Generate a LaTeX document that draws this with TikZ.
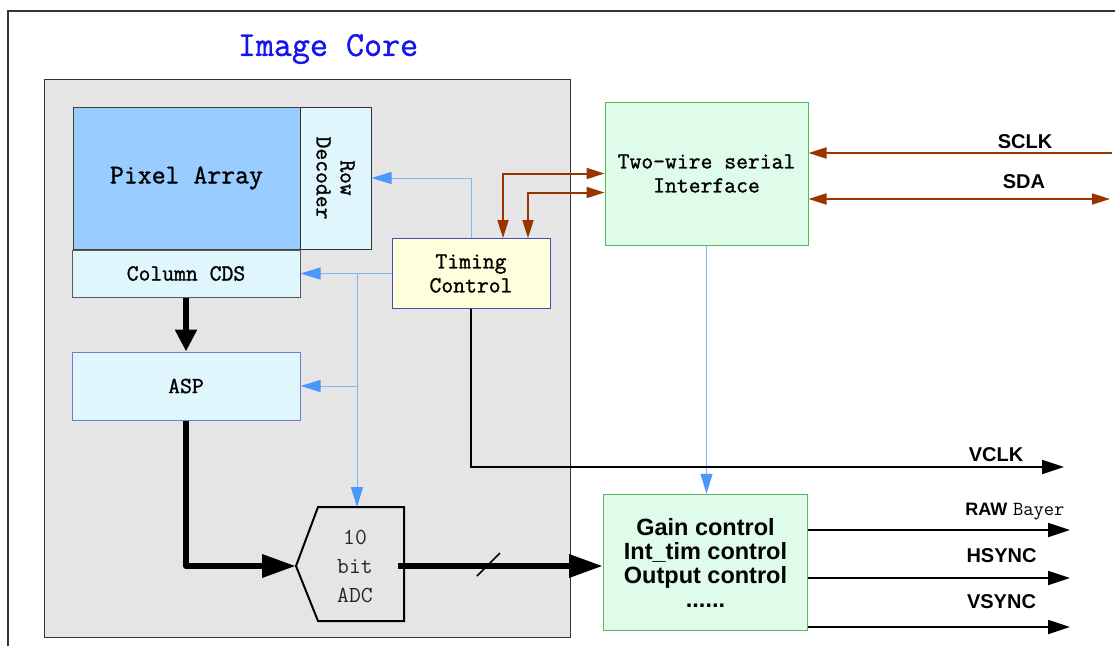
\documentclass[tikz,border=0pt]{standalone}
\usepackage{fontspec}
\newfontfamily\sigfont{Liberation Sans}
\newfontfamily\monofont{Latin Modern Mono}[FakeBold=1.2]
\newfontfamily\monolight{Latin Modern Mono}
\usetikzlibrary{positioning, arrows.meta}

\definecolor{coregray}{HTML}{E5E5E5}
\definecolor{pixblue}{HTML}{99CCFF}
\definecolor{cellcyan}{HTML}{DFF6FD}
\definecolor{tcyellow}{HTML}{FFFFDC}
\definecolor{tcline}{HTML}{3E4FB2}
\definecolor{aspline}{HTML}{7080C8}
\definecolor{ifgreen}{HTML}{DFFCEA}
\definecolor{ifline}{HTML}{5DB55D}
\definecolor{ctlblue}{HTML}{82B6F2}
\definecolor{ctlhead}{HTML}{4A98FA}
\definecolor{serbrown}{HTML}{993300}
\definecolor{titleblue}{HTML}{1414F0}

\begin{document}
\begin{tikzpicture}[x=1pt,y=-1pt,
		box/.style={draw=#1,line width=1pt,inner sep=0pt,align=center},
		mtext/.style={font=\monofont\fontsize{23}{24}\selectfont},
		stext/.style={font=\sigfont\bfseries\fontsize{20}{22}\selectfont},
		sigline/.style={line width=1.8pt,-{Triangle[length=22pt,width=14pt]}},
		ctlline/.style={draw=ctlblue,line width=1pt,-{Triangle[length=20pt,width=12pt,color=ctlhead]}},
		serline/.style={draw=serbrown,line width=2pt},
		sertip/.style={serline,-{Triangle[length=18pt,width=11pt]}},
		bus/.style={line width=6.5pt,line join=round}]
		\useasboundingbox (0,0) rectangle (1115,646);
		\draw[line width=1.5pt,draw=black!80] (8,646) -- (8,11) -- (1115,11);

			\node[font=\monofont\fontsize{35}{36}\selectfont,text=titleblue] (title) at (328,49) {Image Core};
			\node[draw=black!80,fill=coregray,line width=1pt,minimum width=526pt,minimum height=558pt] (core) at (307,358) {};

			\node[box=black!75,fill=pixblue,minimum width=227pt,minimum height=142pt,font=\monofont\fontsize{27}{28}\selectfont] (pix) at (186.5,178) {Pixel Array};
			\node[box=black!80,fill=cellcyan,minimum width=71pt,minimum height=142pt] (rowdec) at (335.5,178) {};
			\node[mtext,rotate=-90,align=center] (rowdectxt) at (rowdec) {Row\\Decoder};
			\node[box=black!65,fill=cellcyan,minimum width=228pt,minimum height=47pt,mtext] (cds) at (186,273.5) {Column CDS};
			\node[box=aspline,fill=cellcyan,minimum width=228pt,minimum height=68pt,mtext] (asp) at (186,386) {ASP};
			\node[box=tcline,fill=tcyellow,minimum width=158pt,minimum height=70pt,mtext] (timing) at (471,273.5) {Timing\\Control};

			\draw[line width=2pt,fill=coregray] (296,566) coordinate (adcl) -- (318,507) -- (404,507) -- (404,621) -- (318,621) -- cycle;
			\coordinate (adct) at (357,507);
			\coordinate (adcr) at (398,566);
			\node[font=\monolight\fontsize{23}{29}\selectfont,align=center,text=black!85] (adc) at (355,566) {10\\bit\\ADC};

			\node[box=ifline,fill=ifgreen,minimum width=203pt,minimum height=143pt,mtext] (twi) at (706.5,173.5) {Two-wire serial\\Interface};
			\node[box=ifline,fill=ifgreen,minimum width=204pt,minimum height=136.5pt,font=\sigfont\bfseries\fontsize{23.5}{24}\selectfont] (outc) at (705.5,562.5) {Gain control\\Int\_tim control\\Output control\\......};

			\coordinate (br) at (357,273.5);
			\draw[ctlline] (timing.north) |- (rowdec.east);
			\draw[ctlline] (timing.west) -- (cds.east);
			\draw[ctlline] (br |- asp.east) -- (asp.east);
			\draw[ctlline] (br) -- (adct);
			\draw[ctlline] (twi.south) -- (twi.south |- outc.north);

			\draw[serline,{Triangle[length=18pt,width=11pt]}-{Triangle[length=18pt,width=11pt]}] ([xshift=32pt]timing.north) |- (twi.west);
			\draw[serline,{Triangle[length=18pt,width=11pt]}-{Triangle[length=18pt,width=11pt]}] ([xshift=57pt]timing.north) |- ([yshift=-19pt]twi.west);

			\coordinate (sclk) at (1112,153);
			\coordinate (sda) at (1110,199);
			\draw[sertip] (sclk) -- (sclk -| twi.east);
			\draw[serline,{Triangle[length=18pt,width=11pt]}-{Triangle[length=18pt,width=11pt]}] (sda -| twi.east) -- (sda);
			\node[stext] (sclklbl) at (1025,141.5) {SCLK};
			\node[stext] (sdalbl) at (1024,181.5) {SDA};

			\coordinate (vclk) at (1064,467);
			\draw[sigline] (timing.south) |- (vclk);
			\node[stext] (vclklbl) at (996,455) {VCLK};

			\coordinate (raw) at (1070,530);
			\coordinate (hs) at (1070,578);
			\coordinate (vs) at (1070,627);
			\draw[sigline] (raw -| outc.east) -- (raw);
			\draw[sigline] (hs -| outc.east) -- (hs);
			\draw[sigline] (vs -| outc.east) -- (vs);
			\node[stext] (rawlbl) at (1015,511.5) {{\fontsize{18}{20}\selectfont RAW} {\monolight\mdseries\fontsize{20}{20}\selectfont Bayer}};
			\node[stext] (hslbl) at (1001.5,555.5) {HSYNC};
			\node[stext] (vslbl) at (1001.5,602) {VSYNC};

			\draw[bus,-{Triangle[length=22pt,width=21pt]}] (cds.south) -- (asp.north);
			\draw[bus,-{Triangle[length=34pt,width=22pt]}] (asp.south) |- (adcl);
			\draw[bus,-{Triangle[length=34pt,width=22pt]}] (adcr) -- (adcr -| outc.west);
			\draw[line width=1.5pt] (477,576) -- (500,553);
		\end{tikzpicture}
\end{document}
